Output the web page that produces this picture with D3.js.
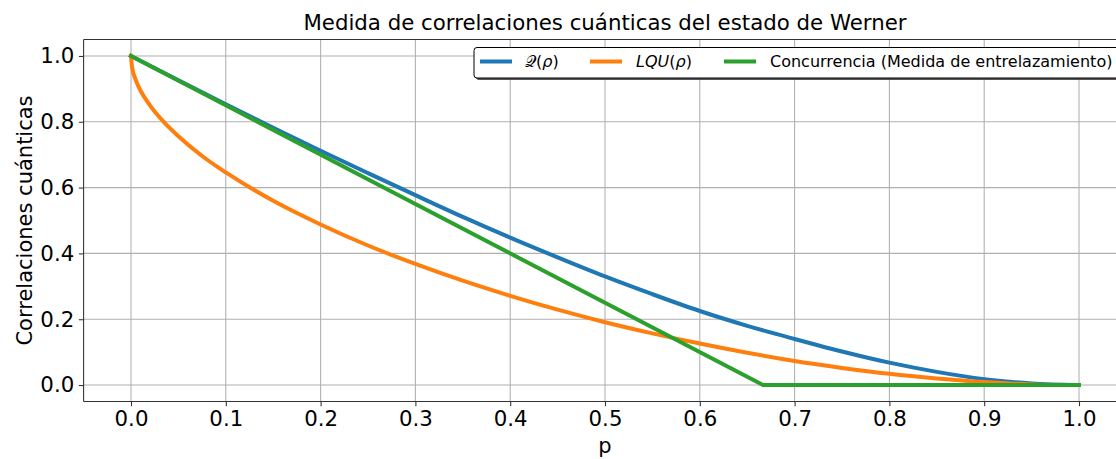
<!DOCTYPE html>
<html>
<head>
<meta charset="utf-8">
<script src="https://cdn.jsdelivr.net/npm/d3@7"></script>
<style>
  html, body { margin: 0; padding: 0; background: #fff; }
  svg { display: block; font-family: "DejaVu Sans", sans-serif; }
</style>
</head>
<body>
<svg id="chart" width="1116" height="459"></svg>
<script>
// values
const qP = [0, 0.05, 0.1, 0.15, 0.2, 0.25, 0.3, 0.35, 0.4, 0.45, 0.5, 0.55, 0.6, 0.65, 0.7, 0.75, 0.8, 0.85, 0.9, 0.95, 1];
const qValues = [1, 0.926, 0.853, 0.782, 0.712, 0.644, 0.577, 0.511, 0.448, 0.388, 0.330, 0.276, 0.225, 0.180, 0.140, 0.102, 0.068, 0.040, 0.018, 0.005, 0];

const lquP = [0, 0.001, 0.005, 0.01, 0.02, 0.035, 0.05, 0.075, 0.1, 0.15, 0.2, 0.25, 0.3, 0.35, 0.4, 0.45, 0.5, 0.55, 0.6, 0.65, 0.7, 0.75, 0.8, 0.85, 0.9, 0.95, 1];
const lquValues = [1, 0.968, 0.927, 0.895, 0.850, 0.798, 0.756, 0.696, 0.646, 0.560, 0.488, 0.424, 0.368, 0.317, 0.271, 0.229, 0.191, 0.157, 0.126, 0.098, 0.073, 0.052, 0.034, 0.020, 0.009, 0.002, 0];

const concP = [0, 0.6667, 1];
const concValues = [1, 0, 0];

const xTicks = [0, 0.1, 0.2, 0.3, 0.4, 0.5, 0.6, 0.7, 0.8, 0.9, 1.0];
const yTicks = [0, 0.2, 0.4, 0.6, 0.8, 1.0];

const series = [
  { name: "Q", xs: qP, ys: qValues, color: "#1f77b4" },
  { name: "LQU", xs: lquP, ys: lquValues, color: "#ff7f0e" },
  { name: "Concurrencia", xs: concP, ys: concValues, color: "#2ca02c" }
];

const svg = d3.select("#chart");
const plotL = 83.6, plotR = 1126.4, plotT = 39.5, plotB = 401.5;

const x = d3.scaleLinear().domain([-0.05, 1.05]).range([plotL, plotR]);
const y = d3.scaleLinear().domain([-0.05, 1.05]).range([plotB, plotT]);

// grid
const grid = svg.append("g");
grid.selectAll("line.gx").data(xTicks).enter().append("line")
  .attr("x1", d => x(d)).attr("x2", d => x(d))
  .attr("y1", plotT).attr("y2", plotB)
  .attr("stroke", "#b0b0b0").attr("stroke-width", 1.07);
grid.selectAll("line.gy").data(yTicks).enter().append("line")
  .attr("x1", plotL).attr("x2", plotR)
  .attr("y1", d => y(d)).attr("y2", d => y(d))
  .attr("stroke", "#b0b0b0").attr("stroke-width", 1.07);

svg.append("clipPath").attr("id", "plotclip")
  .append("rect").attr("x", plotL).attr("y", plotT)
  .attr("width", plotR - plotL).attr("height", plotB - plotT);

const smooth = d3.line().curve(d3.curveMonotoneX);
const plot = svg.append("g").attr("clip-path", "url(#plotclip)");
series.forEach(s => {
  const pts = s.xs.map((p, i) => [x(p), y(s.ys[i])]);
  plot.append("path")
    .attr("d", s.name === "Concurrencia" ? d3.line()(pts) : smooth(pts))
    .attr("fill", "none")
    .attr("stroke", s.color)
    .attr("stroke-width", 4)
    .attr("stroke-linejoin", "round")
    .attr("stroke-linecap", "square");
});

// axes
const fmt = d3.format(".1f");
const xAxis = svg.append("g").attr("transform", `translate(0,${plotB})`)
  .call(d3.axisBottom(x).tickValues(xTicks).tickFormat(fmt).tickSize(4.7).tickPadding(4.7));
const yAxis = svg.append("g").attr("transform", `translate(${plotL},0)`)
  .call(d3.axisLeft(y).tickValues(yTicks).tickFormat(fmt).tickSize(4.7).tickPadding(4.7));
[xAxis, yAxis].forEach(a => {
  a.select(".domain").remove();
  a.selectAll(".tick line").attr("stroke", "#333").attr("stroke-width", 1.07);
  a.selectAll(".tick text").attr("fill", "#000")
    .style("font-family", "DejaVu Sans").style("font-size", "21.3px");
});

// spines: left, bottom, top
svg.append("line").attr("x1", plotL).attr("x2", plotL).attr("y1", plotT).attr("y2", plotB)
  .attr("stroke", "#333").attr("stroke-width", 1.07);
svg.append("line").attr("x1", plotL).attr("x2", plotR).attr("y1", plotB).attr("y2", plotB)
  .attr("stroke", "#333").attr("stroke-width", 1.07);
svg.append("line").attr("x1", plotL).attr("x2", plotR).attr("y1", plotT).attr("y2", plotT)
  .attr("stroke", "#333").attr("stroke-width", 1.07);

// title and labels
svg.append("text").attr("x", (plotL + plotR) / 2).attr("y", 30)
  .attr("text-anchor", "middle").style("font-size", "21.3px")
  .text("Medida de correlaciones cuánticas del estado de Werner");
svg.append("text").attr("x", (plotL + plotR) / 2).attr("y", 453)
  .attr("text-anchor", "middle").style("font-size", "21px").text("p");
svg.append("text")
  .attr("transform", `translate(32,${(plotT + plotB) / 2}) rotate(-90)`)
  .attr("text-anchor", "middle").style("font-size", "21px")
  .text("Correlaciones cuánticas");

// legend
const lg = svg.append("g");
const lgX = 474, lgY = 47.5, lgW = 650, lgH = 30.5;
lg.append("rect").attr("x", lgX + 2).attr("y", lgY + 2).attr("width", lgW).attr("height", lgH)
  .attr("rx", 3).attr("fill", "#444").attr("opacity", 0.9);
lg.append("rect").attr("x", lgX).attr("y", lgY).attr("width", lgW).attr("height", lgH)
  .attr("rx", 3).attr("fill", "#fff").attr("stroke", "#000").attr("stroke-width", 1);

const legendItems = [
  { hx: 480, tx: 525, color: series[0].color, parts: [["𝒬", "normal"], ["(", "normal"], ["ρ", "italic"], [")", "normal"]] },
  { hx: 590, tx: 636, color: series[1].color, parts: [["LQU", "italic"], ["(", "normal"], ["ρ", "italic"], [")", "normal"]] },
  { hx: 724, tx: 770, color: series[2].color, parts: [["Concurrencia (Medida de entrelazamiento)", "normal"]] }
];
const ly = lgY + 14;
legendItems.forEach(it => {
  lg.append("line").attr("x1", it.hx).attr("x2", it.hx + 32)
    .attr("y1", ly).attr("y2", ly)
    .attr("stroke", it.color).attr("stroke-width", 4);
  const t = lg.append("text").attr("x", it.tx).attr("y", ly + 5.8).style("font-size", "16px");
  it.parts.forEach(p => t.append("tspan").style("font-style", p[1]).text(p[0]));
});
</script>
</body>
</html>
